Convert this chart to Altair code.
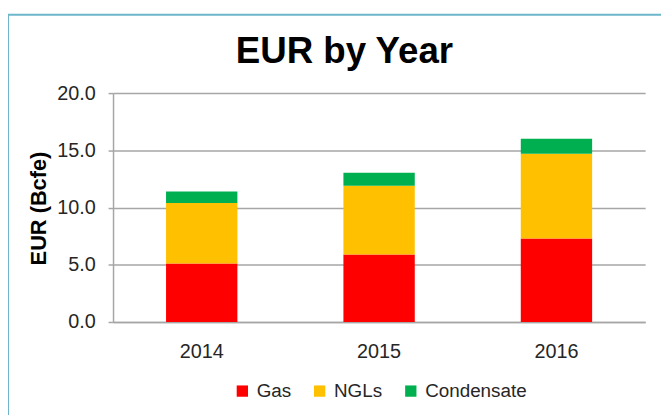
import altair as alt
import pandas as pd

years = ["2014", "2015", "2016"]
components = ["Gas", "NGLs", "Condensate"]
gas = [5.1, 5.9, 7.3]
ngls = [5.3, 6.0, 7.4]
condensate = [1.0, 1.15, 1.3]
colors = ["#FF0000", "#FFC000", "#00B050"]

rows = []
for i, y in enumerate(years):
    for k, (c, vals) in enumerate(zip(components, [gas, ngls, condensate])):
        rows.append({"Year": y, "Component": c, "EUR": vals[i], "ord": k})
df = pd.DataFrame(rows)

FONT = "Liberation Sans"

frame = alt.Chart(pd.DataFrame({"a": [0]})).mark_rect(
    fillOpacity=0, stroke="#6DB6CC", strokeWidth=2
).encode(
    x=alt.value(-106), x2=alt.value(700), y=alt.value(-79), y2=alt.value(600)
)

bars = alt.Chart(df).mark_bar(size=72).encode(
    x=alt.X("Year:N", sort=years,
            scale=alt.Scale(paddingInner=0.6, paddingOuter=0.3),
            axis=alt.Axis(title=None, labelAngle=0, ticks=False, labelPadding=20,
                          labelFontSize=20, labelColor="#262626", labelFont=FONT,
                          domainColor="#A6A6A6", domainWidth=1.5, grid=False)),
    y=alt.Y("EUR:Q", stack="zero",
            scale=alt.Scale(domain=[0, 20], nice=False),
            axis=alt.Axis(title="EUR (Bcfe)", values=[0, 5, 10, 15, 20], format=".1f",
                          labelFontSize=20, labelColor="#262626", labelFont=FONT,
                          labelPadding=13, tickSize=5, tickColor="#A6A6A6", tickWidth=1.5,
                          domainColor="#A6A6A6", domainWidth=1.5,
                          gridColor="#A6A6A6", gridWidth=1.5,
                          titleFont=FONT, titleFontSize=22, titleFontWeight="bold",
                          titleColor="#000000", titleX=-63, titleY=116,
                          titleAlign="center", titleAngle=270)),
    color=alt.Color("Component:N", sort=components,
                    scale=alt.Scale(domain=components, range=colors),
                    legend=alt.Legend(title=None, orient="none", direction="horizontal",
                                      legendX=121, legendY=291,
                                      symbolType="square", symbolSize=130,
                                      symbolStrokeWidth=0, labelFontSize=19,
                                      labelFont=FONT, labelColor="#262626",
                                      labelOffset=5, columnPadding=19)),
    order=alt.Order("ord:Q", sort="ascending"),
)

chart = alt.layer(frame, bars).properties(
    width=537, height=231,
    autosize=alt.AutoSizeParams(type="none"),
    padding={"left": 106, "top": 84, "right": 16, "bottom": 92},
    title=alt.TitleParams("EUR by Year", font=FONT, fontSize=37, fontWeight="bold",
                          color="#000000", anchor="middle", dx=-35, offset=0,
                          baseline="alphabetic", dy=87),
).configure_view(stroke=None)

chart.save("out.html", embed_options={"renderer": "svg", "actions": False})
